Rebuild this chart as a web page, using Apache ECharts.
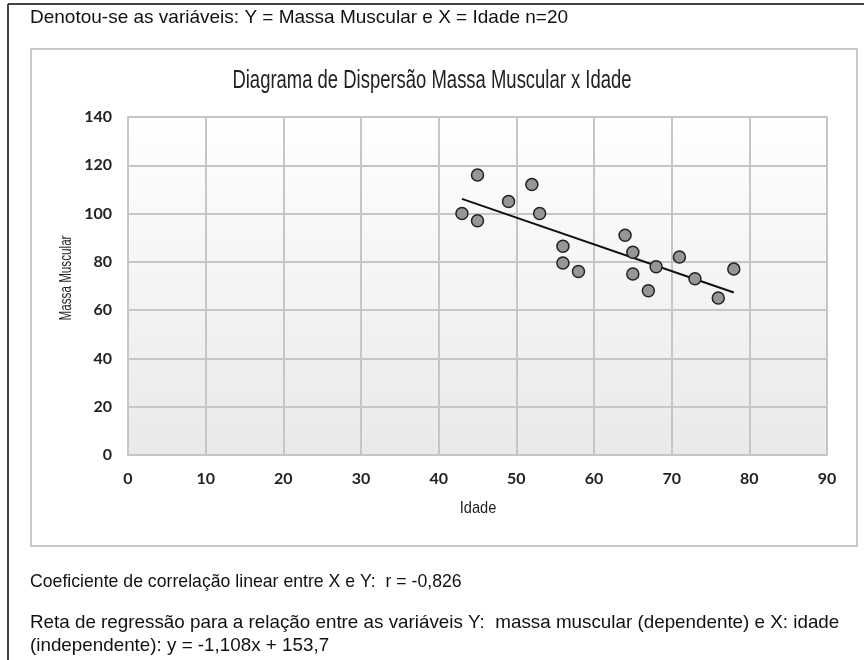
<!DOCTYPE html>
<html>
<head>
<meta charset="utf-8">
<script src="https://cdn.jsdelivr.net/npm/echarts@6/dist/echarts.min.js"></script>
<style>
  html, body { margin: 0; padding: 0; background: #fff; }
  #chart { width: 864px; height: 660px; }
</style>
</head>
<body>
<div id="chart"></div>
<script>
'use strict';

// idade (X) e massa muscular (Y)
var idade = [43, 45, 45, 49, 52, 53, 56, 56, 58, 64, 65, 65, 67, 68, 71, 73, 76, 78];
var massa = [100, 116, 97, 105, 112, 100, 86.5, 79.5, 76, 91, 84, 75, 68, 78, 82, 73, 65, 77];
// extremos da reta de regressao (y = -1,108x + 153,7)
var retaX = [43, 78];
var retaY = [106.1, 67.3];

var xTicks = { min: 0, max: 90, interval: 10 };
var yTicks = { min: 0, max: 140, interval: 20 };

var tituloTopo = 'Denotou-se as variáveis: Y = Massa Muscular e X = Idade n=20';
var tituloGrafico = 'Diagrama de Dispersão Massa Muscular x Idade';
var nomeX = 'Idade';
var nomeY = 'Massa Muscular';
var textoCorrelacao = 'Coeficiente de correlação linear entre X e Y:  r = -0,826';
var textoReta1 = 'Reta de regressão para a relação entre as variáveis Y:  massa muscular (dependente) e X: idade';
var textoReta2 = '(independente): y = -1,108x + 153,7';

var pontos = idade.map(function (x, i) { return [x, massa[i]]; });
var reta = retaX.map(function (x, i) { return [x, retaY[i]]; });

var chart = echarts.init(document.getElementById('chart'));

var bodyFont = '"Liberation Sans", Arial, sans-serif';
var tickFont = 'Lato, "Open Sans", sans-serif';

var option = {
    animation: false,
    backgroundColor: '#fff',
    graphic: [
        // moldura externa
        { type: 'line', shape: { x1: 8, y1: 4, x2: 864, y2: 4 }, style: { stroke: '#444', lineWidth: 2 } },
        { type: 'line', shape: { x1: 8, y1: 4, x2: 8, y2: 660 }, style: { stroke: '#444', lineWidth: 2 } },
        // moldura do grafico
        { type: 'rect', shape: { x: 31, y: 49, width: 826, height: 497 }, style: { fill: 'none', stroke: '#c8c8c8', lineWidth: 2 }, z: -1 },
        { type: 'text', left: 30, top: 8, style: { text: tituloTopo, font: '19px ' + bodyFont, fill: '#111' } },
        // titulo estreito
        { type: 'text', x: 432, y: 81, scaleX: 0.71, style: { text: tituloGrafico, font: '26px ' + bodyFont, fill: '#222', align: 'center', verticalAlign: 'middle' } },
        // nomes dos eixos (fonte estreita)
        { type: 'text', x: 478, y: 508, scaleX: 0.86, style: { text: nomeX, font: '17px ' + bodyFont, fill: '#222', align: 'center', verticalAlign: 'middle' } },
        { type: 'text', x: 67, y: 278, rotation: Math.PI / 2, scaleX: 0.73, style: { text: nomeY, font: '16px ' + bodyFont, fill: '#222', align: 'center', verticalAlign: 'middle' } },
        { type: 'text', x: 30, y: 572, scaleX: 0.93, style: { text: textoCorrelacao, font: '19px ' + bodyFont, fill: '#111' } },
        { type: 'text', x: 30, y: 613, scaleX: 0.99, style: { text: textoReta1, font: '19px ' + bodyFont, fill: '#111' } },
        { type: 'text', x: 30, y: 636, scaleX: 0.99, style: { text: textoReta2, font: '19px ' + bodyFont, fill: '#111' } }
    ],
    grid: {
        left: 128,
        right: 37,
        top: 117,
        bottom: 205,
        show: true,
        borderColor: '#bdbdbd',
        borderWidth: 1.5,
        backgroundColor: {
            type: 'linear', x: 0, y: 0, x2: 0, y2: 1,
            colorStops: [
                { offset: 0, color: '#ffffff' },
                { offset: 1, color: '#e9e9e9' }
            ]
        }
    },
    xAxis: {
        type: 'value',
        min: xTicks.min,
        max: xTicks.max,
        interval: xTicks.interval,
        axisLine: { show: false },
        axisTick: { show: false },
        axisLabel: { margin: 16, fontFamily: tickFont, fontWeight: 'bold', fontSize: 16, color: '#222' },
        splitLine: { show: true, lineStyle: { color: '#c6c6c6', width: 2 } }
    },
    yAxis: {
        type: 'value',
        min: yTicks.min,
        max: yTicks.max,
        interval: yTicks.interval,
        axisLine: { show: false },
        axisTick: { show: false },
        axisLabel: { margin: 16, fontFamily: tickFont, fontWeight: 'bold', fontSize: 16, color: '#222' },
        splitLine: { show: true, lineStyle: { color: '#c6c6c6', width: 2 } }
    },
    series: [
        {
            name: 'Reta',
            type: 'line',
            data: reta,
            symbol: 'none',
            lineStyle: { color: '#111', width: 2 },
            z: 2
        },
        {
            name: 'Dados',
            type: 'scatter',
            data: pontos,
            symbol: 'circle',
            symbolSize: 12,
            itemStyle: { color: '#969696', borderColor: '#222', borderWidth: 1.5, opacity: 1 },
            z: 3
        }
    ]
};

chart.setOption(option);
</script>
</body>
</html>
